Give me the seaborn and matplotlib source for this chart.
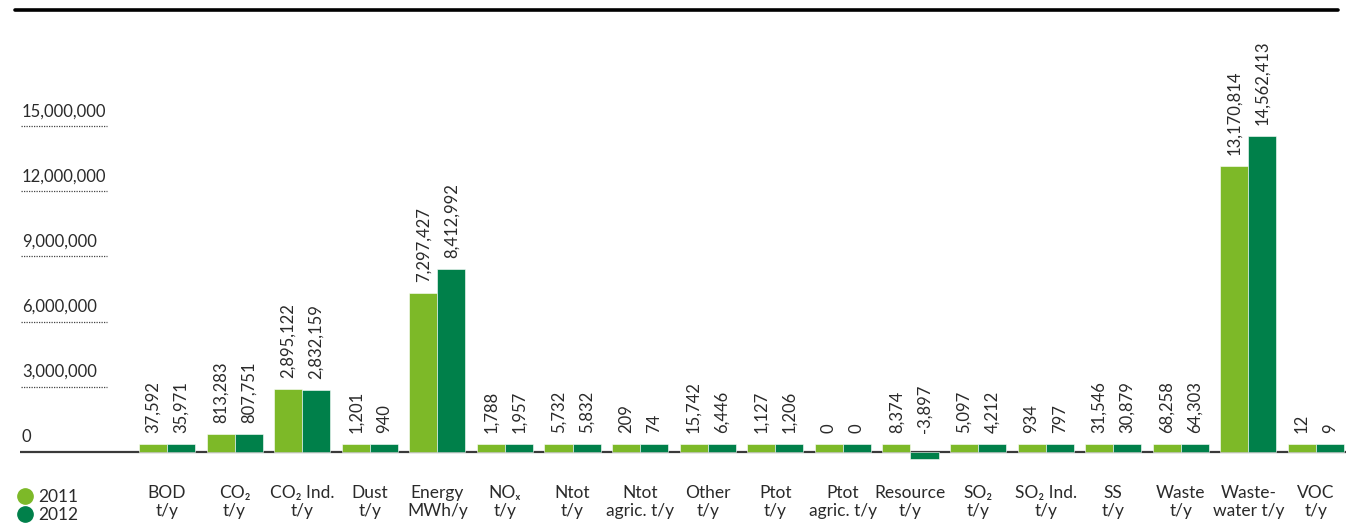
import numpy as np
import pandas as pd
import matplotlib
matplotlib.use("Agg")
import matplotlib.pyplot as plt
from matplotlib.lines import Line2D
import seaborn as sns

categories = ["BOD\nt/y", "CO\u2082\nt/y", "CO\u2082 Ind.\nt/y", "Dust\nt/y", "Energy\nMWh/y",
              "NO\u2093\nt/y", "Ntot\nt/y", "Ntot\nagric. t/y", "Other\nt/y", "Ptot\nt/y",
              "Ptot\nagric. t/y", "Resource\nt/y", "SO\u2082\nt/y", "SO\u2082 Ind.\nt/y", "SS\nt/y",
              "Waste\nt/y", "Waste-\nwater t/y", "VOC\nt/y"]
values_2011 = [37592, 813283, 2895122, 1201, 7297427, 1788, 5732, 209, 15742, 1127,
               0, 8374, 5097, 934, 31546, 68258, 13170814, 12]
values_2012 = [35971, 807751, 2832159, 940, 8412992, 1957, 5832, 74, 6446, 1206,
               0, -3897, 4212, 797, 30879, 64303, 14562413, 9]
years = ["2011", "2012"]
y_ticks = [0, 3000000, 6000000, 9000000, 12000000, 15000000]

colors = {"2011": "#7db928", "2012": "#00804a"}
text_color = "#2a2a2a"
FLOOR = 340000  # minimum visible bar size, as in the original layout

sns.set_style("white")
plt.rcParams['font.family'] = ['Lato', 'DejaVu Sans']
plt.rcParams['font.size'] = 12

df = pd.DataFrame({
    "category": categories * 2,
    "year": [years[0]] * len(categories) + [years[1]] * len(categories),
    "value": values_2011 + values_2012,
})
# bars smaller than the floor are drawn at the floor height (keeping sign)
df["shown"] = np.where(df["value"] < 0, np.minimum(df["value"], -FLOOR),
                       np.maximum(df["value"], FLOOR))

W, H = 1346, 523
fig = plt.figure(figsize=(W / 100, H / 100), dpi=100)
ax = fig.add_axes([20 / W, (H - 466) / H, 1326 / W, 446 / H])

sns.barplot(data=df, x="category", y="shown", hue="year", order=categories,
            hue_order=years, palette=colors, saturation=1, width=0.83, dodge=True,
            edgecolor="white", linewidth=0.4, legend=False, ax=ax, zorder=3)

ax.set_xlim(-2.175, 17.444)
ax.set_ylim(-0.669e6, 19.915e6)
ax.set_xlabel("")
ax.set_ylabel("")
for s in ax.spines.values():
    s.set_visible(False)
ax.set_yticks([])
ax.tick_params(axis="x", length=0, pad=13.5, colors=text_color, labelsize=12.5)
for lbl in ax.get_xticklabels():
    lbl.set_linespacing(1.15)

# baseline
ax.axhline(0, color="#3a3a3a", lw=1.6, zorder=2)

# y tick labels with dotted rules
for t in y_ticks:
    ax.annotate(f"{t:,}", xy=(0.0015, t), xycoords=("axes fraction", "data"),
                xytext=(0, 5), textcoords="offset points", ha="left", va="bottom",
                color=text_color, fontsize=12)
    if t != 0:
        ax.axhline(t, xmin=0.001, xmax=87 / 1326, color="#444444", lw=0.9,
                   linestyle=(0, (1, 1)), zorder=2)

# value labels
raw = {"2011": values_2011, "2012": values_2012}
for year, cont in zip(years, ax.containers):
    for patch, v in zip(cont.patches, raw[year]):
        xc = patch.get_x() + patch.get_width() / 2
        y = max(patch.get_height(), FLOOR)
        ax.annotate(f"{v:,}", xy=(xc, y), xytext=(0, 8), textcoords="offset points",
                    rotation=90, ha="center", va="bottom", color=text_color,
                    fontsize=12)

# top rule
fig.add_artist(Line2D([15 / W, 1338 / W], [1 - 10 / H, 1 - 10 / H],
                      color="black", lw=2.6, transform=fig.transFigure))

# legend
handles = [Line2D([], [], marker="o", linestyle="none", markersize=11,
                  markerfacecolor=colors[y], markeredgecolor=colors[y], label=y)
           for y in years]
leg = fig.legend(handles=handles, loc="upper left", bbox_to_anchor=(12 / W, 1 - 482 / H),
                 frameon=False, handlelength=0.7, handletextpad=0.4,
                 labelspacing=0.1, borderaxespad=0, fontsize=12.5)
for t in leg.get_texts():
    t.set_color(text_color)

fig.savefig("out.png", dpi=100)
